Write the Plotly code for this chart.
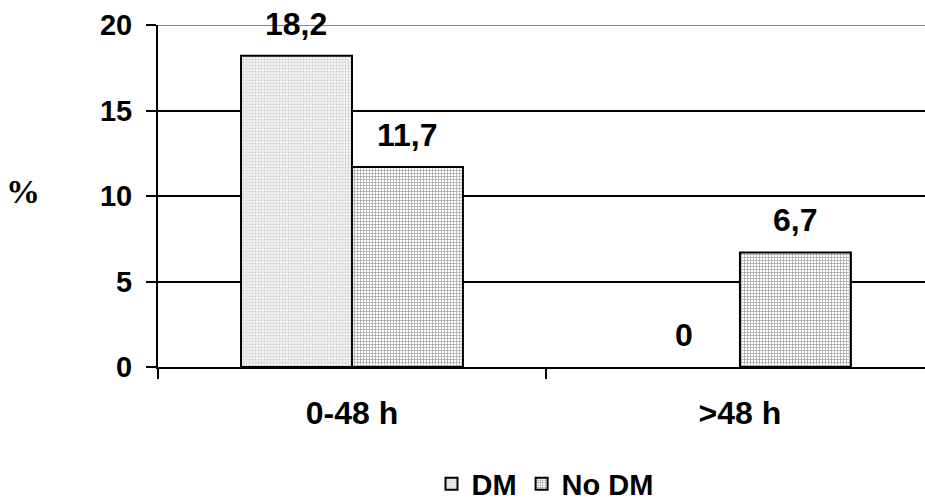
import plotly.graph_objects as go

categories = ["0-48 h", ">48 h"]
series_names = ["DM", "No DM"]
dm_values = [18.2, 0]
nodm_values = [11.7, 6.7]
value_labels_dm = ["18,2", "0"]
value_labels_nodm = ["11,7", "6,7"]
y_ticks = [0, 5, 10, 15, 20]

FONT = "Liberation Sans, Arial, sans-serif"
SERIF = "Liberation Serif, Times New Roman, serif"
FS = 29

fig = go.Figure()
fig.add_trace(go.Bar(
    x=categories, y=dm_values, name=series_names[0],
    marker=dict(color="white",
                line=dict(color="black", width=[2 if v > 0 else 0 for v in dm_values]),
                pattern=dict(shape=".", fgcolor="#a8a8a8", bgcolor="#f2f2f2", size=3, solidity=0.35)),
))
fig.add_trace(go.Bar(
    x=categories, y=nodm_values, name=series_names[1],
    marker=dict(color="white",
                line=dict(color="black", width=[2 if v > 0 else 0 for v in nodm_values]),
                pattern=dict(shape="+", fgcolor="#3a3a3a", bgcolor="white", size=3, solidity=0.4)),
))

annotations = []
for i, c in enumerate(categories):
    annotations.append(dict(x=c, y=dm_values[i], xref="x", yref="y", text=value_labels_dm[i],
                            showarrow=False, xshift=-55.5, yshift=32, yanchor="middle",
                            font=dict(family=FONT, size=32, color="black", weight="bold")))
    annotations.append(dict(x=c, y=nodm_values[i], xref="x", yref="y", text=value_labels_nodm[i],
                            showarrow=False, xshift=55.5, yshift=32, yanchor="middle",
                            font=dict(family=FONT, size=32, color="black", weight="bold")))
annotations.append(dict(x=(23 - 158) / 767, y=(367 - 191) / 342, xref="paper", yref="paper",
                        text="%", showarrow=False, xanchor="center", yanchor="middle",
                        font=dict(family=SERIF, size=34, color="black", weight="bold")))

fig.update_layout(
    width=925, height=500,
    margin=dict(l=158, r=0, t=25, b=133, autoexpand=False),
    paper_bgcolor="white", plot_bgcolor="white",
    barmode="group", bargap=0.428, bargroupgap=0,
    font=dict(family=FONT, size=FS, color="black", weight="bold"),
    xaxis=dict(type="category", range=[-0.5, 1.477], tickson="boundaries",
               ticks="outside", ticklen=10, tickwidth=2, tickcolor="black",
               showline=True, linecolor="black", linewidth=2, showgrid=False,
               ticklabelstandoff=17,
               tickfont=dict(family=FONT, size=32, color="black", weight="bold")),
    yaxis=dict(range=[0, 20], tickvals=y_ticks, ticks="outside", ticklen=10, tickwidth=2,
               tickcolor="black", showline=True, linecolor="black", linewidth=2,
               showgrid=True, gridcolor="black", gridwidth=2, zeroline=False,
               ticklabelstandoff=8,
               tickfont=dict(family=FONT, size=FS, color="black", weight="bold")),
    legend=dict(orientation="h", xref="container", x=545 / 925, xanchor="center",
                yref="paper", y=-(484 - 367) / 342, yanchor="middle",
                font=dict(family=FONT, size=29, color="black", weight="bold"),
                itemwidth=30, tracegroupgap=0, traceorder="normal"),
    annotations=annotations,
    shapes=[dict(type="line", xref="paper", yref="y", x0=0, x1=1, y0=max(y_ticks), y1=max(y_ticks),
                 line=dict(color="#8a8a8a", width=2), layer="above")],
    showlegend=True,
)

fig.write_html("out.html")
